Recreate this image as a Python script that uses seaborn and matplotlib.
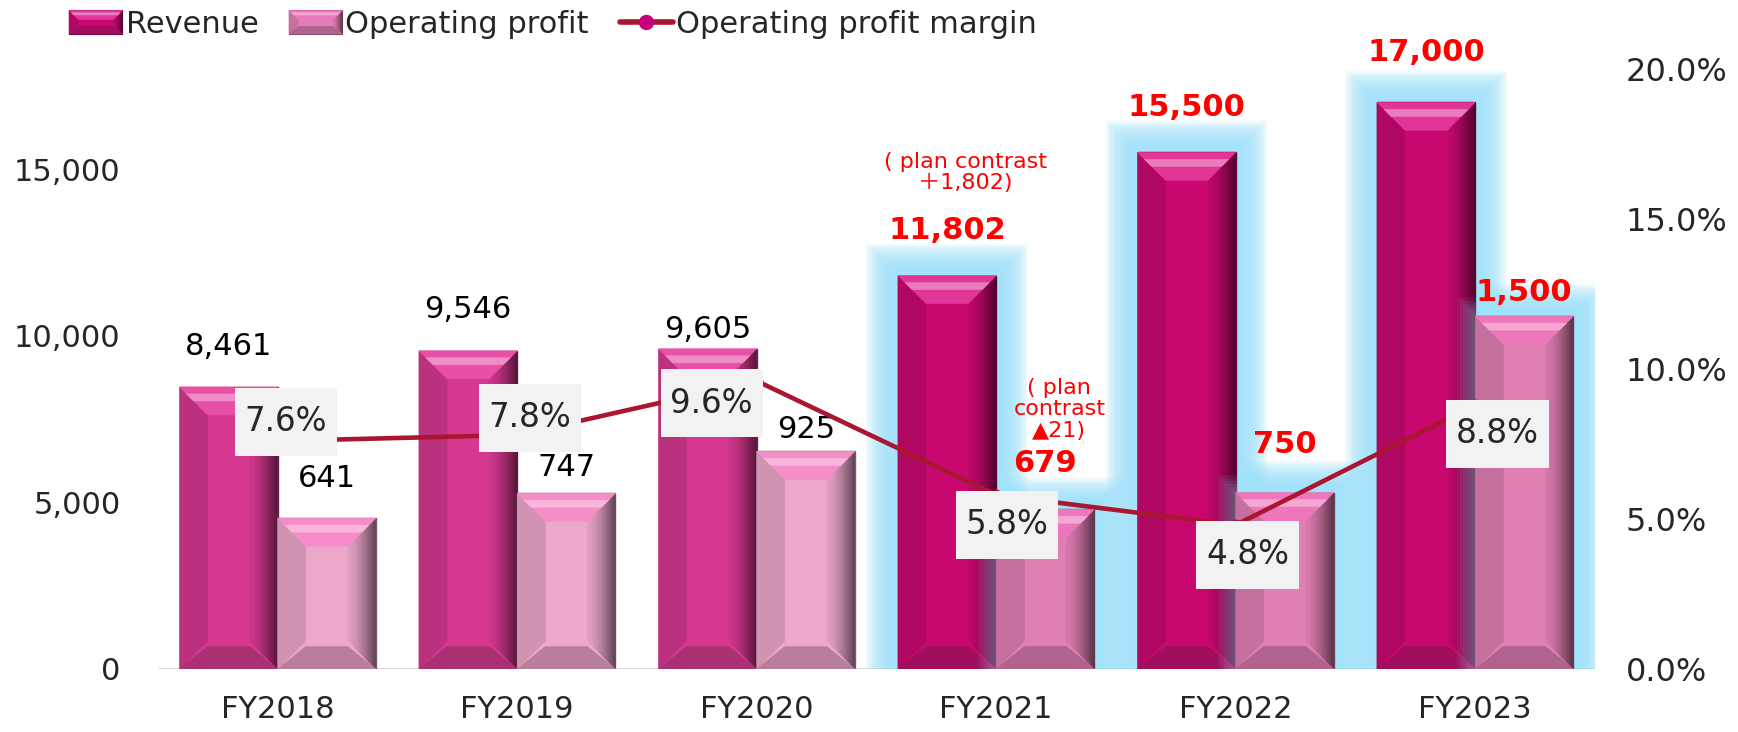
"""
Revenue / operating profit / margin chart, FY2018-FY2023 (plan).

Output:
    out.png
"""

import numpy as np
import pandas as pd
import matplotlib.pyplot as plt
import matplotlib.colors as mcolors
from matplotlib.patches import Polygon, Rectangle
from matplotlib.path import Path
from matplotlib.lines import Line2D
from matplotlib.legend_handler import HandlerBase
from matplotlib.ticker import FuncFormatter, MultipleLocator
import seaborn as sns


YEARS = ["FY2018", "FY2019", "FY2020", "FY2021", "FY2022", "FY2023"]
REVENUE = [8461, 9546, 9605, 11802, 15500, 17000]
OP_PROFIT = [641, 747, 925, 679, 750, 1500]
MARGIN = [7.6, 7.8, 9.6, 5.8, 4.8, 8.8]
HIGHLIGHT = [False, False, False, True, True, True]
PLAN_NOTE_REV = "( plan contrast\n＋1,802)"
PLAN_NOTE_OP = "( plan\ncontrast\n▲21)"

# styling
REV_COLORS = ["#D6388F", "#D6388F", "#D6388F", "#C8086F", "#C8086F", "#C8086F"]
OP_COLORS = ["#EDA7CA", "#EDA7CA", "#EDA7CA", "#E07FB3", "#E07FB3", "#E07FB3"]
LINE_COLOR = "#AA1530"
GLOW_COLOR = "#9EE3FA"
BOX_COLOR = "#F2F2F2"
RED = "#FF0000"

# label offsets above bar tops / around margin points, in pixels
REV_LABEL_DY = [40, 41, 19, 45, 45, 50]
OP_LABEL_DY = [40, 26, 22, 46, 48, 24]
PCT_LABEL_DXY = [(8, 19), (13, 17), (-45, -22), (11, -30), (12, -30), (22, -29)]

FIG_W, FIG_H = 1738, 732
AX_RECT = [0.0909, 0.0861, 0.8268, 0.8196]
REV_MAX = 18000
OP_MAX = 2550


def configure_matplotlib() -> None:
    sns.set_theme(style="white")
    plt.rcParams["font.family"] = ["DejaVu Sans", "Noto Sans CJK JP"]
    plt.rcParams["axes.unicode_minus"] = False


def mix(color, other, t):
    a = np.array(mcolors.to_rgb(color))
    b = np.array(mcolors.to_rgb(other))
    return tuple(a * (1 - t) + b * t)


def px_units(ymax):
    ax_w = AX_RECT[2] * FIG_W
    ax_h = AX_RECT[3] * FIG_H
    return len(YEARS) / ax_w, ymax / ax_h


def bevel_pieces(x0, y0, w, h, dx, dy, face):
    """Polygons (points, colour) giving a bevelled-box look."""
    x1, y1 = x0 + w, y0 + h
    top_col = mix(face, "#FF6EC7", 0.45)
    pieces = [
        ([(x0, y0), (x0 + dx, y0 + dy), (x0 + dx, y1 - dy), (x0, y1)], mix(face, "black", 0.12)),
    ]
    n = 12
    for i in range(n):
        xa = x1 - dx + dx * i / n
        xb = x1 - dx + dx * (i + 1) / n
        ya, yb = dy * (x1 - xa) / dx, dy * (x1 - xb) / dx
        pieces.append(([(xa, y0 + ya), (xb, y0 + yb), (xb, y1 - yb), (xa, y1 - ya)],
                       mix(face, "black", 0.05 + 0.6 * (i / n) ** 1.5)))
    pieces.append(([(x0, y1), (x1, y1), (x1 - dx, y1 - dy), (x0 + dx, y1 - dy)], top_col))
    pieces.append(([(x0 + dx * 0.25, y1 - dy * 0.25), (x1 - dx * 0.25, y1 - dy * 0.25),
                    (x1 - dx * 0.5, y1 - dy * 0.5), (x0 + dx * 0.5, y1 - dy * 0.5)],
                   mix(top_col, "white", 0.35)))
    pieces.append(([(x0, y0), (x1, y0), (x1 - dx, y0 + dy * 0.8), (x0 + dx, y0 + dy * 0.8)],
                   mix(face, "#402030", 0.3)))
    return pieces


def add_bevel(ax, patch, face, ymax, depth=28):
    ux, uy = px_units(ymax)
    w = patch.get_width()
    dx, dy = min(depth * ux, w * 0.3), depth * uy
    patch.set_facecolor(face)
    patch.set_edgecolor(mix(face, "black", 0.45))
    patch.set_linewidth(1.0)
    z = patch.get_zorder() + 0.1
    for pts, col in bevel_pieces(patch.get_x(), 0, w, patch.get_height(), dx, dy, face):
        ax.add_patch(Polygon(pts, facecolor=col, edgecolor=col, linewidth=0.4, zorder=z))


def add_glow(ax, patch, ymax, transform, core=6, fade=26, layers=22, alpha=0.09):
    ux, uy = px_units(ymax)
    x0, w, h = patch.get_x(), patch.get_width(), patch.get_height()
    for k in range(1, layers + 1):
        e = core + fade * k / layers
        ax.add_patch(Rectangle((x0 - e * ux, 0), w + 2 * e * ux, h + e * uy,
                               facecolor=GLOW_COLOR, edgecolor="none", alpha=alpha,
                               zorder=0.5, transform=transform))


def label_box(x0, y0, width, height, mutation_size):
    # wider vertical padding than horizontal, like the reference boxes
    px, py = 0.3 * mutation_size, 0.53 * mutation_size
    x0, y0 = x0 - px, y0 - py
    x1, y1 = x0 + width + 2 * px, y0 + height + 2 * py
    return Path([(x0, y0), (x1, y0), (x1, y1), (x0, y1), (x0, y0)], closed=True)


class HandlerBevel(HandlerBase):
    def __init__(self, face):
        super().__init__()
        self.face = face

    def create_artists(self, legend, orig_handle, xdescent, ydescent, width, height,
                       fontsize, trans):
        x0, y0 = -xdescent, -ydescent
        d = height * 0.4
        arts = [Rectangle((x0, y0), width, height, facecolor=self.face,
                          edgecolor=mix(self.face, "black", 0.4), linewidth=0.8, transform=trans)]
        for pts, col in bevel_pieces(x0, y0, width, height, d, d, self.face):
            arts.append(Polygon(pts, facecolor=col, edgecolor=col, linewidth=0.3, transform=trans))
        return arts


def main() -> None:
    configure_matplotlib()

    rev_df = pd.DataFrame({"fy": YEARS, "value": REVENUE, "series": "Revenue"})
    op_df = pd.DataFrame({"fy": YEARS, "value": OP_PROFIT, "series": "Operating profit"})
    hue_order = ["Revenue", "Operating profit"]
    palette = {"Revenue": REV_COLORS[0], "Operating profit": OP_COLORS[0]}

    fig = plt.figure(figsize=(FIG_W / 100, FIG_H / 100), dpi=100)
    ax = fig.add_axes(AX_RECT)

    # revenue bars (left axis)
    sns.barplot(data=rev_df, x="fy", y="value", hue="series", hue_order=hue_order,
                palette=palette, order=YEARS, errorbar=None, legend=False, dodge=True,
                width=0.82, ax=ax)
    ax.set_ylim(0, REV_MAX)

    # operating profit bars (hidden secondary scale)
    ax_op = ax.twinx()
    sns.barplot(data=op_df, x="fy", y="value", hue="series", hue_order=hue_order,
                palette=palette, order=YEARS, errorbar=None, legend=False, dodge=True,
                width=0.82, ax=ax_op)
    ax_op.set_ylim(0, OP_MAX)

    rev_bars = [p for c in ax.containers for p in c]
    op_bars = [p for c in ax_op.containers for p in c]

    # glows sit underneath the revenue bars; a faint tint of the profit glow lies on top
    for i in range(len(YEARS)):
        if HIGHLIGHT[i]:
            add_glow(ax, rev_bars[i], REV_MAX, ax.transData)
            add_glow(ax, op_bars[i], OP_MAX, ax_op.transData)
            add_glow(ax_op, op_bars[i], OP_MAX, ax_op.transData, core=0, fade=18,
                     layers=6, alpha=0.07)

    for i, bar in enumerate(rev_bars):
        add_bevel(ax, bar, REV_COLORS[i], REV_MAX)
        ax.annotate(f"{REVENUE[i]:,}", xy=(bar.get_x() + bar.get_width() / 2, bar.get_height()),
                    xytext=(0, REV_LABEL_DY[i] * 0.72), textcoords="offset points",
                    ha="center", va="center", fontsize=22,
                    color=RED if HIGHLIGHT[i] else "black",
                    fontweight="bold" if HIGHLIGHT[i] else "normal", zorder=6)
    ax.annotate(PLAN_NOTE_REV, xy=(rev_bars[3].get_x() + rev_bars[3].get_width() / 2,
                                   rev_bars[3].get_height()),
                xytext=(18 * 0.72, 103 * 0.72), textcoords="offset points",
                ha="center", va="center", fontsize=16, color=RED, linespacing=1.1)

    for i, bar in enumerate(op_bars):
        add_bevel(ax_op, bar, OP_COLORS[i], OP_MAX)
        ax_op.annotate(f"{OP_PROFIT[i]:,}", xy=(bar.get_x() + bar.get_width() / 2, bar.get_height()),
                       xytext=(0, OP_LABEL_DY[i] * 0.72), textcoords="offset points",
                       ha="center", va="center", fontsize=22,
                       color=RED if HIGHLIGHT[i] else "black",
                       fontweight="bold" if HIGHLIGHT[i] else "normal", zorder=6)
    ax_op.annotate(PLAN_NOTE_OP, xy=(op_bars[3].get_x() + op_bars[3].get_width() / 2,
                                     op_bars[3].get_height()),
                   xytext=(14 * 0.72, 100 * 0.72), textcoords="offset points",
                   ha="center", va="center", fontsize=16, color=RED, linespacing=1.1)
    ax_op.yaxis.set_visible(False)

    # margin line (right axis)
    ax_pct = ax.twinx()
    sns.pointplot(x=YEARS, y=MARGIN, ax=ax_pct, color=LINE_COLOR, markers="o",
                  linestyles="-", errorbar=None, markersize=6, linewidth=3.3)
    for line in ax_pct.lines:
        line.set_zorder(3)
    ax_pct.set_ylim(0, 20)
    ax_pct.yaxis.set_major_locator(MultipleLocator(5))
    ax_pct.yaxis.set_major_formatter(FuncFormatter(lambda v, _: f"{v:.1f}%"))
    for i, m in enumerate(MARGIN):
        dx, dy = PCT_LABEL_DXY[i]
        ax_pct.annotate(f"{m:.1f}%", xy=(i, m), xytext=(dx * 0.72, dy * 0.72),
                        textcoords="offset points", ha="center", va="center", fontsize=23.5,
                        bbox=dict(boxstyle=label_box, fc=BOX_COLOR, ec="none"), zorder=6)

    ax.yaxis.set_major_locator(MultipleLocator(5000))
    ax.yaxis.set_major_formatter(FuncFormatter(lambda v, _: f"{int(v):,}"))
    for a in (ax, ax_op, ax_pct):
        for s in a.spines.values():
            s.set_visible(False)
        a.set_xlabel("")
        a.set_ylabel("")
        a.set_xlim(-0.5, len(YEARS) - 0.5)
    ax.set_ylim(0, REV_MAX)
    ax.axhline(0, color="#D9D9D9", linewidth=2, zorder=0.4)
    ax.tick_params(axis="y", length=0, labelsize=22, pad=27)
    ax.tick_params(axis="x", length=0, labelsize=22, pad=19)
    ax_pct.tick_params(axis="y", length=0, labelsize=23, pad=22)

    rev_handle = Rectangle((0, 0), 1, 1)
    op_handle = Rectangle((0, 0), 1, 1)
    line_handle = Line2D([], [], color=LINE_COLOR, linewidth=4, marker="o", markersize=10,
                         markerfacecolor="#C4007A", markeredgecolor="#C4007A")
    fig.legend([rev_handle, op_handle, line_handle],
               ["Revenue", "Operating profit", "Operating profit margin"],
               handler_map={rev_handle: HandlerBevel("#C8086F"),
                            op_handle: HandlerBevel("#E07FB3")},
               loc="center left", bbox_to_anchor=(0.0397, 0.967), ncol=3, frameon=False,
               fontsize=22, handlelength=1.75, handleheight=0.8, handletextpad=0.1,
               columnspacing=1.0, borderpad=0, borderaxespad=0)

    fig.savefig("out.png", dpi=100)
    plt.close(fig)


if __name__ == "__main__":
    main()
